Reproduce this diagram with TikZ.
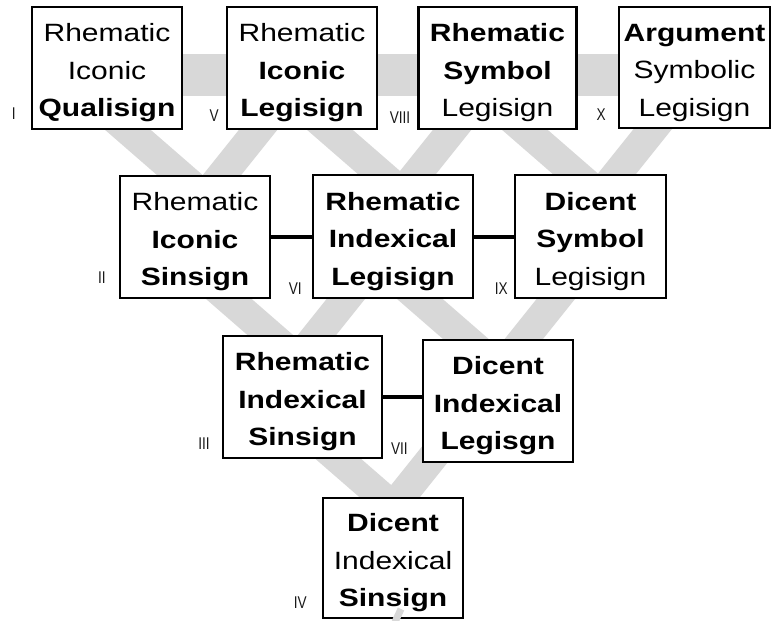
\documentclass[tikz,border=0pt]{standalone}
\usepackage{fontspec}
\setmainfont{Liberation Sans}[FakeStretch=1.2]
\newfontfamily\numfont{Liberation Sans}[FakeStretch=0.8]
\usetikzlibrary{calc}

\pgfdeclarelayer{back}
\pgfsetlayers{back,main}

\definecolor{bandgray}{RGB}{216,216,216}
\tikzset{
  signbox/.style={draw=black, line width=2.2pt, fill=white, inner sep=0pt},
  signtext/.style={font=\fontsize{25}{37.5}\selectfont, align=center, inner sep=0pt},
  numeral/.style={font=\numfont\fontsize{17}{17}\selectfont, text=black!90, anchor=south east, inner sep=0pt},
  band/.style={draw=bandgray, line width=30pt},
  link/.style={draw=black, line width=4pt},
}

\begin{document}
\begin{tikzpicture}[x=1pt, y=-1pt]
\useasboundingbox (0,0) rectangle (777,621);

% ---- the ten sign classes (boxes only; text is set on top) ----
\path
  node[signbox, minimum width=150pt, minimum height=122pt] (I)    at (107,68)     {}
  node[signbox, minimum width=150pt, minimum height=122pt] (V)    at (302,68)     {}
  node[signbox, minimum width=158pt, minimum height=122pt] (VIII) at (497.5,68)   {}
  node[signbox, minimum width=151pt, minimum height=121pt] (X)    at (694.5,67.5) {}
  node[signbox, minimum width=150pt, minimum height=122pt] (II)   at (195,237)    {}
  node[signbox, minimum width=160pt, minimum height=123pt] (VI)   at (393,236.5)  {}
  node[signbox, minimum width=151pt, minimum height=123pt] (IX)   at (590.5,236.5){}
  node[signbox, minimum width=159pt, minimum height=122pt] (III)  at (302.5,397)  {}
  node[signbox, minimum width=150pt, minimum height=122pt] (VII)  at (498,401)    {}
  node[signbox, minimum width=140pt, minimum height=120pt] (IV)   at (393,558)    {};

% end points of the grey arms, hidden inside the boxes they join
\coordinate (I-II-a)    at (93.5,100);  \coordinate (I-II-b)    at (214.3,205);
\coordinate (V-II-a)    at (282,100);   \coordinate (V-II-b)    at (198,205);
\coordinate (V-VI-a)    at (295.5,100); \coordinate (V-VI-b)    at (416.3,205);
\coordinate (VIII-VI-a) at (476,100);   \coordinate (VIII-VI-b) at (392,205);
\coordinate (VIII-IX-a) at (490.5,100); \coordinate (VIII-IX-b) at (611.3,205);
\coordinate (X-IX-a)    at (676,100);   \coordinate (X-IX-b)    at (592,205);
\coordinate (II-III-a)  at (195.5,270); \coordinate (II-III-b)  at (305.9,366);
\coordinate (VI-III-a)  at (369,270);   \coordinate (VI-III-b)  at (292.2,366);
\coordinate (VI-VII-a)  at (386.5,270); \coordinate (VI-VII-b)  at (496.9,366);
\coordinate (IX-VII-a)  at (579,270);   \coordinate (IX-VII-b)  at (502.2,366);
\coordinate (III-IV-a)  at (305,430);   \coordinate (III-IV-b)  at (417.8,528);
\coordinate (VII-IV-a)  at (454.4,430); \coordinate (VII-IV-b)  at (376,528);

% ---- grey lattice behind the boxes ----
\begin{pgfonlayer}{back}
  \draw[band, line width=42pt] ($(I.center)+(0,7)$) -- ($(X.center)+(0,7.5)$);
  \foreach \arm in {I-II, V-II, V-VI, VIII-VI, VIII-IX, X-IX,
                    II-III, VI-III, VI-VII, IX-VII, III-IV, VII-IV}
    \draw[band] (\arm-a) -- (\arm-b);
\end{pgfonlayer}

% ---- black links within a row ----
\draw[link] (II.east) -- (II.east -| VI.west);
\draw[link] (VI.east) -- (IX.west);
\draw[link] (III.east) -- (III.east -| VII.west);

% ---- box texts ----
\node[signtext] (I-t)    at ($(I.center)+(0,5)$)    {Rhematic\\Iconic\\\textbf{Qualisign}};
\node[signtext] (V-t)    at ($(V.center)+(0,5)$)    {Rhematic\\\textbf{Iconic}\\\textbf{Legisign}};
\node[signtext] (VIII-t) at ($(VIII.center)+(0,5)$) {\textbf{Rhematic}\\\textbf{Symbol}\\Legisign};
\node[signtext] (X-t)    at ($(X.center)+(0,5)$)    {\textbf{Argument}\\Symbolic\\Legisign};
\node[signtext] (II-t)   at ($(II.center)+(0,5)$)   {Rhematic\\\textbf{Iconic}\\\textbf{Sinsign}};
\node[signtext] (VI-t)   at ($(VI.center)+(0,5)$)   {\textbf{Rhematic}\\\textbf{Indexical}\\\textbf{Legisign}};
\node[signtext] (IX-t)   at ($(IX.center)+(0,5)$)   {\textbf{Dicent}\\\textbf{Symbol}\\Legisign};
\node[signtext] (III-t)  at ($(III.center)+(0,5)$)  {\textbf{Rhematic}\\\textbf{Indexical}\\\textbf{Sinsign}};
\node[signtext] (VII-t)  at ($(VII.center)+(0,5)$)  {\textbf{Dicent}\\\textbf{Indexical}\\\textbf{Legisgn}};
\node[signtext] (IV-t)   at ($(IV.center)+(0,5)$)   {\textbf{Dicent}\\Indexical\\\textbf{Sinsign}};

% small grey stroke at the foot of the last box
\draw[draw=bandgray, line width=7pt] (401,609) -- (395,622);

% ---- Roman numerals ----
\node[numeral] (I-n)    at ($(I.south west)+(-15,-10)$)   {I};
\node[numeral] (V-n)    at ($(V.south west)+(-7,-8)$)     {V};
\node[numeral] (VIII-n) at ($(VIII.south west)+(-7,-6)$)  {VIII};
\node[numeral] (X-n)    at ($(X.south west)+(-12,-8)$)    {X};
\node[numeral] (II-n)   at ($(II.south west)+(-13,-15)$)  {II};
\node[numeral] (VI-n)   at ($(VI.south west)+(-10,-4)$)   {VI};
\node[numeral] (IX-n)   at ($(IX.south west)+(-6,-4)$)    {IX};
\node[numeral] (III-n)  at ($(III.south west)+(-12,-9)$)  {III};
\node[numeral] (VII-n)  at ($(VII.south west)+(-14,-8)$)  {VII};
\node[numeral] (IV-n)   at ($(IV.south west)+(-15,-10)$)  {IV};
\end{tikzpicture}
\end{document}
